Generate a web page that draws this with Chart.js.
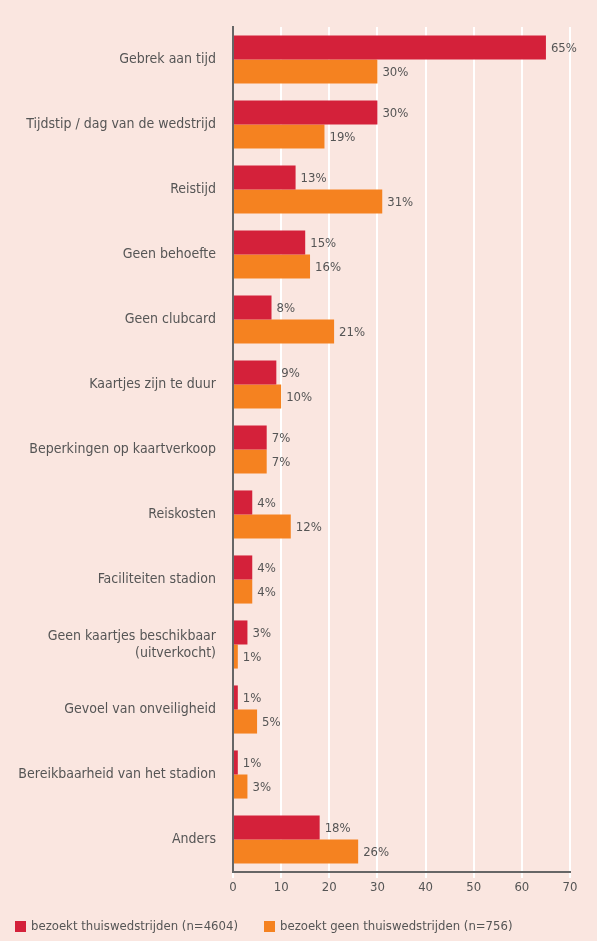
<!DOCTYPE html>
<html>
<head>
<meta charset="utf-8">
<script src="https://cdn.jsdelivr.net/npm/chart.js@4/dist/chart.umd.min.js"></script>
<style>
  html, body { margin: 0; padding: 0; background: #fae6e0; }
  #wrap { width: 597px; height: 941px; position: relative; }
</style>
</head>
<body>
<div id="wrap"><canvas id="chart"></canvas></div>
<script>
const categories = [
  "Gebrek aan tijd",
  "Tijdstip / dag van de wedstrijd",
  "Reistijd",
  "Geen behoefte",
  "Geen clubcard",
  "Kaartjes zijn te duur",
  "Beperkingen op kaartverkoop",
  "Reiskosten",
  "Faciliteiten stadion",
  ["Geen kaartjes beschikbaar", "(uitverkocht)"],
  "Gevoel van onveiligheid",
  "Bereikbaarheid van het stadion",
  "Anders"
];
const seriesNames = ["bezoekt thuiswedstrijden (n=4604)", "bezoekt geen thuiswedstrijden (n=756)"];
const visitors = [65, 30, 13, 15, 8, 9, 7, 4, 4, 3, 1, 1, 18];
const nonVisitors = [30, 19, 31, 16, 21, 10, 7, 12, 4, 1, 5, 3, 26];
const xTicks = [0, 10, 20, 30, 40, 50, 60, 70];
const colors = ["#d4213a", "#f58220"];

const FONT = "'DejaVu Sans Condensed', 'Liberation Sans Narrow', sans-serif";
const TEXT = "#555";

// draws "65%" right after each bar
const valueLabels = {
  id: "valueLabels",
  afterDatasetsDraw(chart) {
    const ctx = chart.ctx;
    ctx.save();
    ctx.font = "13px " + FONT;
    ctx.fillStyle = TEXT;
    ctx.textBaseline = "middle";
    ctx.textAlign = "left";
    chart.data.datasets.forEach((ds, i) => {
      chart.getDatasetMeta(i).data.forEach((bar, j) => {
        ctx.fillText(ds.data[j] + "%", bar.x + 5, bar.y + 1);
      });
    });
    ctx.restore();
  }
};

// legend along the bottom edge, like the original
const bottomLegend = {
  id: "bottomLegend",
  afterDraw(chart) {
    const ctx = chart.ctx;
    const y = 926;
    const pos = [15, 264];
    ctx.save();
    ctx.font = "13px " + FONT;
    ctx.textBaseline = "middle";
    ctx.textAlign = "left";
    chart.data.datasets.forEach((ds, i) => {
      ctx.fillStyle = ds.backgroundColor;
      ctx.fillRect(pos[i], y - 5, 11, 11);
      ctx.fillStyle = TEXT;
      ctx.fillText(ds.label, pos[i] + 16, y + 1);
    });
    ctx.restore();
  }
};

new Chart(document.getElementById("chart"), {
  type: "bar",
  data: {
    labels: categories,
    datasets: [
      { label: seriesNames[0], data: visitors, backgroundColor: colors[0] },
      { label: seriesNames[1], data: nonVisitors, backgroundColor: colors[1] }
    ]
  },
  options: {
    indexAxis: "y",
    responsive: true,
    maintainAspectRatio: false,
    animation: false,
    layout: { padding: { top: 27, right: 27, left: 0, bottom: 35 } },
    datasets: { bar: { categoryPercentage: 0.74, barPercentage: 1 } },
    plugins: {
      tooltip: { enabled: false },
      legend: { display: false }
    },
    scales: {
      x: {
        min: 0, max: 70,
        afterBuildTicks(axis) { axis.ticks = xTicks.map(v => ({ value: v })); },
        grid: { color: "#ffffff", lineWidth: 2, drawTicks: true, tickLength: 6, tickColor: "#ffffff" },
        border: { color: "#666", width: 2 },
        ticks: { font: { family: FONT, size: 13 }, color: TEXT, padding: 2 },
        afterFit(axis) { axis.height = 34; }
      },
      y: {
        grid: { display: false },
        border: { color: "#666", width: 2 },
        ticks: { font: { family: FONT, size: 14 }, color: TEXT, padding: 9 },
        afterFit(axis) { axis.width = 233; }
      }
    }
  },
  plugins: [valueLabels, bottomLegend]
});
</script>
</body>
</html>
